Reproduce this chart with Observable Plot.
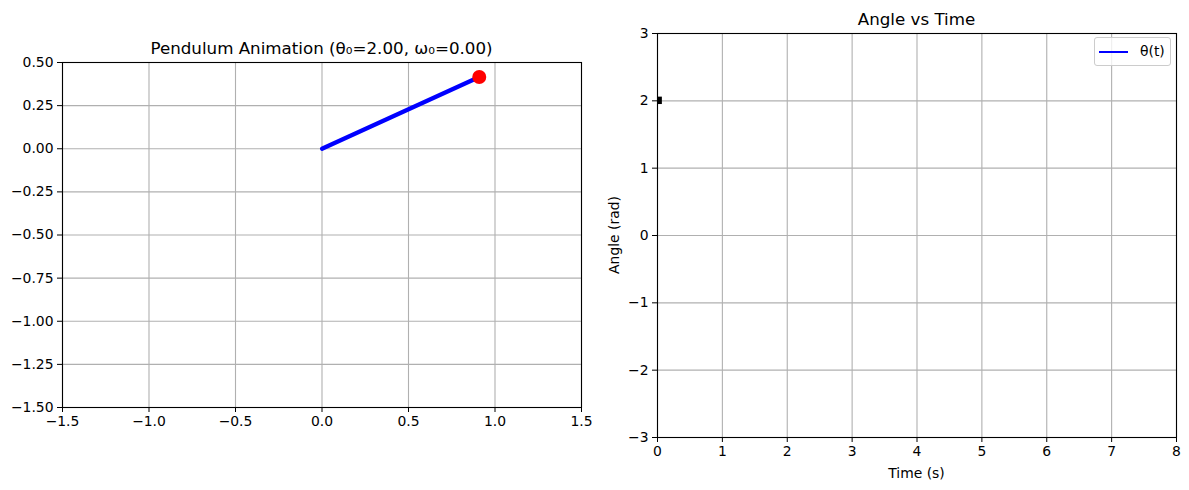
<!DOCTYPE html>
<html>
<head>
<meta charset="utf-8">
<script src="https://cdn.jsdelivr.net/npm/d3@7"></script>
<script src="https://cdn.jsdelivr.net/npm/@observablehq/plot@0.6"></script>
<style>
  html, body { margin: 0; padding: 0; background: #fff; }
  #root { position: relative; width: 1189px; height: 490px; font-family: "DejaVu Sans", sans-serif; color: #000; overflow: hidden; }
  .abs { position: absolute; }
  .title { font-size: 16.7px; white-space: nowrap; transform: translateX(-50%); }
  .lab { font-size: 13.9px; white-space: nowrap; }
</style>
</head>
<body>
<div id="root"></div>
<script>
// ---- data ----
const theta0 = 2.0;
const omega0 = 0.0;
// pendulum rod: pivot and bob
const rodX = [0, 0.909];
const rodY = [0, 0.416];
const bobX = [0.909];
const bobY = [0.416];
// angle vs time: current time marker
const markerT = [0];
const markerAngle = [2.0];
const legendLabel = "θ(t)";
// tick labels
const pendXTicks = [-1.5, -1.0, -0.5, 0.0, 0.5, 1.0, 1.5];
const pendYTicks = [-1.5, -1.25, -1.0, -0.75, -0.5, -0.25, 0.0, 0.25, 0.5];
const timeTicks = [0, 1, 2, 3, 4, 5, 6, 7, 8];
const angleTicks = [-3, -2, -1, 0, 1, 2, 3];

const root = document.getElementById("root");
const style = {fontFamily: "DejaVu Sans", fontSize: "13.9px", color: "#000", background: "transparent", overflow: "visible"};
const gridStroke = "#b0b0b0";
const fmt = f => v => d3.format(f)(v);

const rod = rodX.map((x, i) => ({x, y: rodY[i]}));
const bob = bobX.map((x, i) => ({x, y: bobY[i]}));

const left = Plot.plot({
  width: 600, height: 490,
  marginLeft: 62, marginRight: 19, marginTop: 62, marginBottom: 83,
  style,
  x: {domain: [-1.5, 1.5]},
  y: {domain: [-1.5, 0.5]},
  marks: [
    Plot.gridX(pendXTicks, {stroke: gridStroke, strokeOpacity: 1, strokeWidth: 1.1}),
    Plot.gridY(pendYTicks, {stroke: gridStroke, strokeOpacity: 1, strokeWidth: 1.1}),
    Plot.line(rod, {x: "x", y: "y", stroke: "blue", strokeWidth: 4.2}),
    Plot.dot(bob, {x: "x", y: "y", r: 7, fill: "red", stroke: "none"}),
    Plot.axisX(pendXTicks, {tickFormat: fmt(".1f"), tickSize: 5, tickPadding: 4, label: null, fontSize: 13.9}),
    Plot.axisY(pendYTicks, {tickFormat: fmt(".2f"), tickSize: 5, tickPadding: 4, label: null, fontSize: 13.9}),
    Plot.frame({stroke: "#000", strokeWidth: 1.1})
  ]
});
const ldiv = document.createElement("div");
ldiv.className = "abs"; ldiv.style.left = "0px"; ldiv.style.top = "0px";
ldiv.appendChild(left);
root.appendChild(ldiv);

const markers = markerT.map((t, i) => ({t, a: markerAngle[i]}));
const right = Plot.plot({
  width: 589, height: 490,
  marginLeft: 57, marginRight: 13, marginTop: 33, marginBottom: 53,
  style,
  x: {domain: [0, 8]},
  y: {domain: [-3, 3]},
  marks: [
    Plot.gridX(timeTicks, {stroke: gridStroke, strokeOpacity: 1, strokeWidth: 1.1}),
    Plot.gridY(angleTicks, {stroke: gridStroke, strokeOpacity: 1, strokeWidth: 1.1}),
    Plot.rect(markers, {x1: "t", x2: d => d.t + 0.075, y1: d => d.a - 0.055, y2: d => d.a + 0.055, fill: "#000"}),
    Plot.axisX(timeTicks, {tickFormat: fmt("d"), tickSize: 5, tickPadding: 4, label: null, fontSize: 13.9}),
    Plot.axisY(angleTicks, {tickFormat: fmt("d"), tickSize: 5, tickPadding: 4, label: null, fontSize: 13.9}),
    Plot.frame({stroke: "#000", strokeWidth: 1.1})
  ]
});
const rdiv = document.createElement("div");
rdiv.className = "abs"; rdiv.style.left = "600px"; rdiv.style.top = "0px";
rdiv.appendChild(right);
root.appendChild(rdiv);

// titles and axis labels
function addText(cls, text, x, y, extra) {
  const d = document.createElement("div");
  d.className = "abs " + cls;
  d.textContent = text;
  d.style.left = x + "px"; d.style.top = y + "px";
  if (extra) Object.assign(d.style, extra);
  root.appendChild(d);
  return d;
}
const sub0 = "\u2080";
addText("title", `Pendulum Animation (θ${sub0}=${theta0.toFixed(2)}, ω${sub0}=${omega0.toFixed(2)})`, 321.5, 37.5);
addText("title", "Angle vs Time", 916.5, 8.5);
addText("lab", "Time (s)", 916.5, 465, {transform: "translateX(-50%)"});
addText("lab", "Angle (rad)", 613.5, 235, {transform: "translate(-50%,-50%) rotate(-90deg)", left: "613.5px"});

// legend
const leg = document.createElement("div");
leg.className = "abs";
Object.assign(leg.style, {left: "1094px", top: "37px", width: "75px", height: "27px", border: "1px solid #cccccc", borderRadius: "3px", background: "rgba(255,255,255,0.8)"});
const sw = document.createElement("div");
sw.className = "abs";
Object.assign(sw.style, {left: "4px", top: "13px", width: "29px", height: "2px", background: "blue"});
leg.appendChild(sw);
const lt = document.createElement("div");
lt.className = "abs lab";
lt.textContent = legendLabel;
Object.assign(lt.style, {left: "45px", top: "5px"});
leg.appendChild(lt);
root.appendChild(leg);
</script>
</body>
</html>
